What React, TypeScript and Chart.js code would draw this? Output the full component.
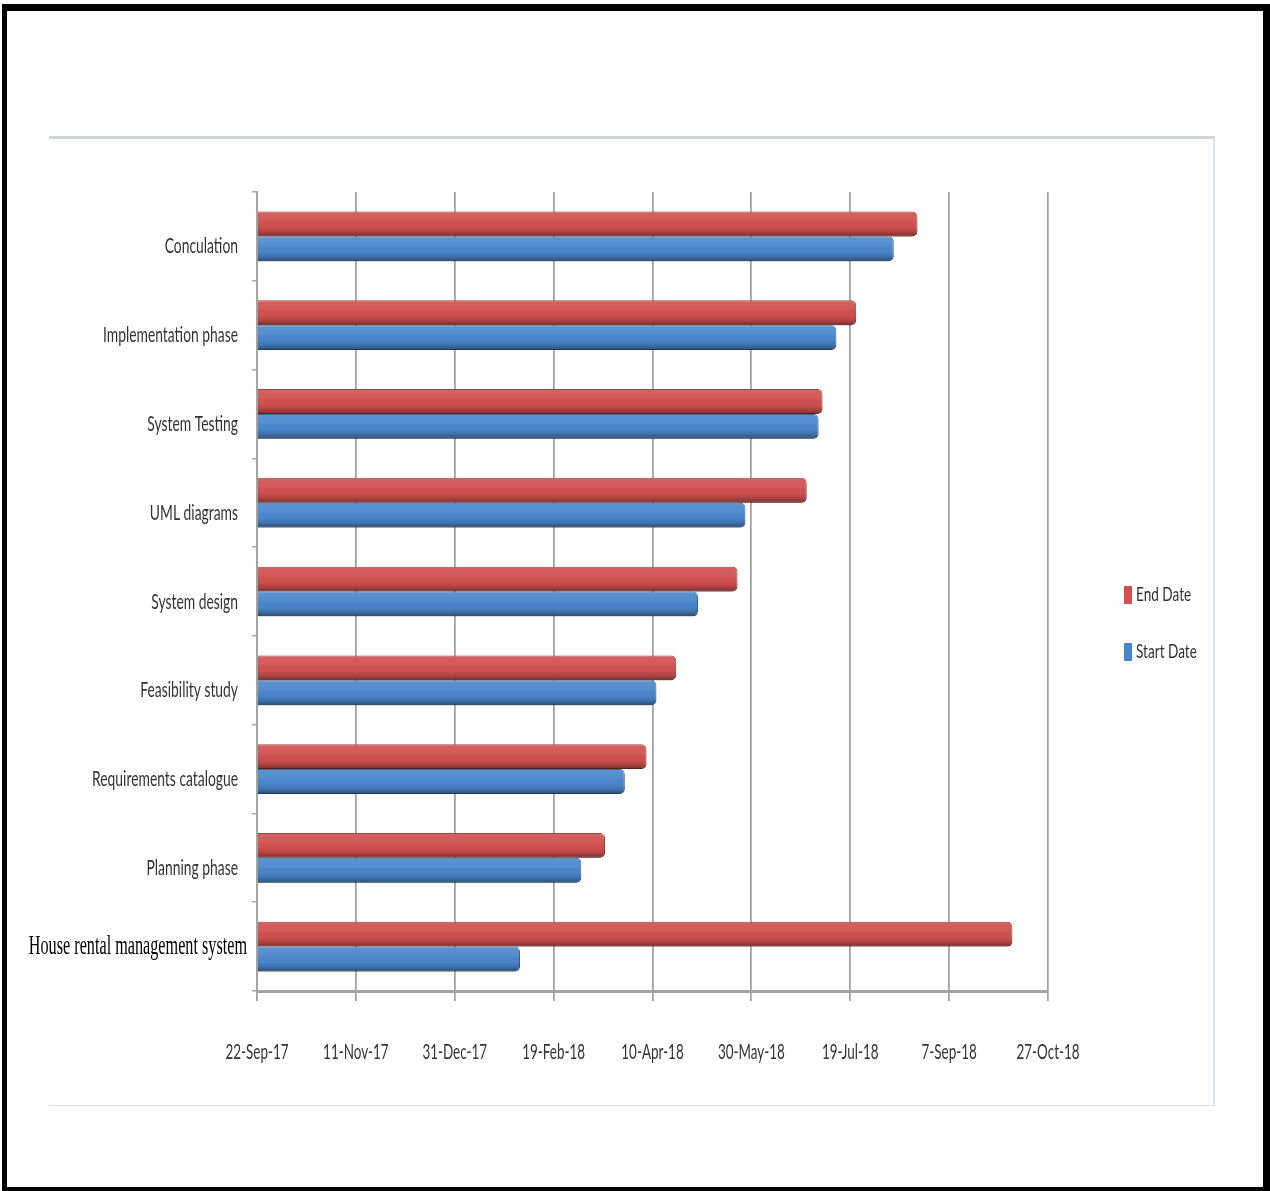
import React, { useEffect, useRef } from "react";
import { Chart, registerables } from "chart.js";

Chart.register(...registerables);

// ---- Data ----
const categories = [
  "Conculation",
  "Implementation phase",
  "System Testing",
  "UML diagrams",
  "System design",
  "Feasibility study",
  "Requirements catalogue",
  "Planning phase",
  "House rental management system",
];

const endDates = [
  "2018-08-22",
  "2018-07-22",
  "2018-07-05",
  "2018-06-27",
  "2018-05-23",
  "2018-04-22",
  "2018-04-07",
  "2018-03-17",
  "2018-10-09",
];

const startDates = [
  "2018-08-10",
  "2018-07-12",
  "2018-07-03",
  "2018-05-27",
  "2018-05-03",
  "2018-04-12",
  "2018-03-27",
  "2018-03-05",
  "2018-02-02",
];

const xTickLabels = [
  "22-Sep-17",
  "11-Nov-17",
  "31-Dec-17",
  "19-Feb-18",
  "10-Apr-18",
  "30-May-18",
  "19-Jul-18",
  "7-Sep-18",
  "27-Oct-18",
];

const seriesNames = ["End Date", "Start Date"];
const axisStart = "2017-09-22";
const axisSpanDays = 400;
const tickStepDays = 50;

// ---- Helpers ----
const DAY = 24 * 3600 * 1000;
const toDays = (iso: string) => {
  const [y, m, d] = iso.split("-").map(Number);
  const [y0, m0, d0] = axisStart.split("-").map(Number);
  return Math.round((Date.UTC(y, m - 1, d) - Date.UTC(y0, m0 - 1, d0)) / DAY);
};

const SANS = "Lato, 'DejaVu Sans Condensed', sans-serif";
const SERIF = "'Liberation Serif', 'DejaVu Serif', serif";
const TEXT_COLOR = "#333333";

// Draw a horizontally condensed text run
function condensedText(
  ctx: CanvasRenderingContext2D,
  text: string,
  x: number,
  y: number,
  font: string,
  sx: number,
  align: CanvasTextAlign,
  color: string
) {
  ctx.save();
  ctx.translate(x, y);
  ctx.scale(sx, 1);
  ctx.font = font;
  ctx.fillStyle = color;
  ctx.textAlign = align;
  ctx.textBaseline = "middle";
  ctx.fillText(text, 0, 0);
  ctx.restore();
}

const barShadePlugin = {
  id: "barShade",
  afterDatasetsDraw(chart: any) {
    const ctx = chart.ctx;
    ctx.save();
    chart.data.datasets.forEach((_: any, di: number) => {
      const meta = chart.getDatasetMeta(di);
      meta.data.forEach((el: any) => {
        const { x, y, base, height } = el.getProps(["x", "y", "base", "height"], true);
        const left = Math.min(x, base);
        const w = Math.abs(x - base);
        const top = y - height / 2;
        const g = ctx.createLinearGradient(0, top, 0, top + height);
        g.addColorStop(0, "rgba(255,255,255,0.10)");
        g.addColorStop(0.35, "rgba(255,255,255,0.06)");
        g.addColorStop(0.6, "rgba(0,0,0,0.0)");
        g.addColorStop(0.8, "rgba(0,0,0,0.15)");
        g.addColorStop(1, "rgba(0,0,0,0.42)");
        ctx.fillStyle = g;
        ctx.beginPath();
        ctx.roundRect(left, top, w, height, [0, 5, 5, 0]);
        ctx.fill();
      });
    });
    ctx.restore();
  },
};

const axisLabelPlugin = {
  id: "axisLabels",
  afterDraw(chart: any) {
    const ctx = chart.ctx;
    const ys = chart.scales.y;
    const xs = chart.scales.x;
    // category labels
    chart.data.labels.forEach((label: string, i: number) => {
      const py = ys.getPixelForTick(i);
      const last = i === chart.data.labels.length - 1;
      if (last) {
        condensedText(ctx, label, ys.right - 10, py, `27px ${SERIF}`, 0.6, "right", "#000");
      } else {
        condensedText(ctx, label, ys.right - 19, py + 10, `22px ${SANS}`, 0.63, "right", TEXT_COLOR);
      }
    });
    // date labels
    xs.ticks.forEach((_t: any, i: number) => {
      const px = xs.getPixelForTick(i);
      condensedText(ctx, xTickLabels[i], px, xs.top + 61, `21px ${SANS}`, 0.64, "center", TEXT_COLOR);
    });
    // legend
    const area = chart.chartArea;
    const x0 = area.right + 76;
    const lys = [area.top + 403, area.top + 460];
    chart.data.datasets.forEach((ds: any, i: number) => {
      const cy = lys[i];
      ctx.fillStyle = ds.backgroundColor;
      ctx.fillRect(x0, cy - 9, 8, 18);
      condensedText(ctx, ds.label, x0 + 12, cy, `20px ${SANS}`, 0.68, "left", TEXT_COLOR);
    });
  },
};

function GanttChart() {
  const ref = useRef<HTMLCanvasElement | null>(null);
  useEffect(() => {
    if (!ref.current) return;
    const chart = new Chart(ref.current, {
      type: "bar",
      data: {
        labels: categories,
        datasets: [
          {
            label: seriesNames[0],
            data: endDates.map(toDays),
            backgroundColor: "#D0504F",
            borderColor: "#8E3433",
            borderWidth: 1,
            borderRadius: 5,
            categoryPercentage: 0.56,
            barPercentage: 1.0,
          },
          {
            label: seriesNames[1],
            data: startDates.map(toDays),
            backgroundColor: "#4A86CC",
            borderColor: "#2F5A8C",
            borderWidth: 1,
            borderRadius: 5,
            categoryPercentage: 0.56,
            barPercentage: 1.0,
          },
        ],
      },
      options: {
        indexAxis: "y",
        animation: false,
        responsive: false,
        maintainAspectRatio: false,
        layout: { padding: { top: 52, right: 167, left: 0, bottom: 0 } },
        plugins: {
          legend: { display: false },
          tooltip: { enabled: false },
        },
        scales: {
          x: {
            type: "linear",
            min: 0,
            max: axisSpanDays,
            afterFit: (s: any) => {
              s.height = 113;
            },
            afterBuildTicks: (s: any) => {
              s.ticks = xTickLabels.map((_, i) => ({ value: i * tickStepDays }));
            },
            ticks: {
              display: false,
              stepSize: tickStepDays,
              autoSkip: false,
              maxRotation: 0,
              minRotation: 0,
            },
            grid: {
              color: "#a3a3a3",
              lineWidth: 1.8,
              tickLength: 10,
              drawTicks: true,
            },
            border: { color: "#a3a3a3", width: 3 },
          },
          y: {
            afterFit: (s: any) => {
              s.width = 237;
            },
            ticks: {
              display: false,
              autoSkip: false,
            },
            grid: {
              drawOnChartArea: false,
              offset: true,
              tickLength: 5,
              color: "#a8a8a8",
              lineWidth: 1.5,
            },
            border: { color: "#a3a3a3", width: 2 },
          },
        },
      },
      plugins: [barShadePlugin, axisLabelPlugin],
    } as any);
    return () => chart.destroy();
  }, []);

  return (
    <canvas
      ref={ref}
      width={1195}
      height={964}
      style={{ position: "absolute", left: 20, top: 140, width: 1195, height: 964 }}
    />
  );
}

export default function App() {
  return (
    <div
      style={{
        position: "absolute",
        left: 0,
        top: 0,
        width: 1270,
        height: 1191,
        background: "#ffffff",
        overflow: "hidden",
      }}
    >
      <div
        style={{
          position: "absolute",
          left: 2,
          top: 4,
          width: 1268,
          height: 1187,
          boxSizing: "border-box",
          borderStyle: "solid",
          borderColor: "#000",
          borderLeftWidth: 5,
          borderTopWidth: 7,
          borderRightWidth: 7,
          borderBottomWidth: 4,
        }}
      />
      <div
        style={{
          position: "absolute",
          left: 49,
          top: 136,
          width: 1166,
          height: 970,
          boxSizing: "border-box",
          borderTop: "3px solid #cfd4d4",
          borderBottom: "1px solid #dde2e2",
          borderRight: "2px solid #d3e6ec",
        }}
      />
      <GanttChart />
    </div>
  );
}
